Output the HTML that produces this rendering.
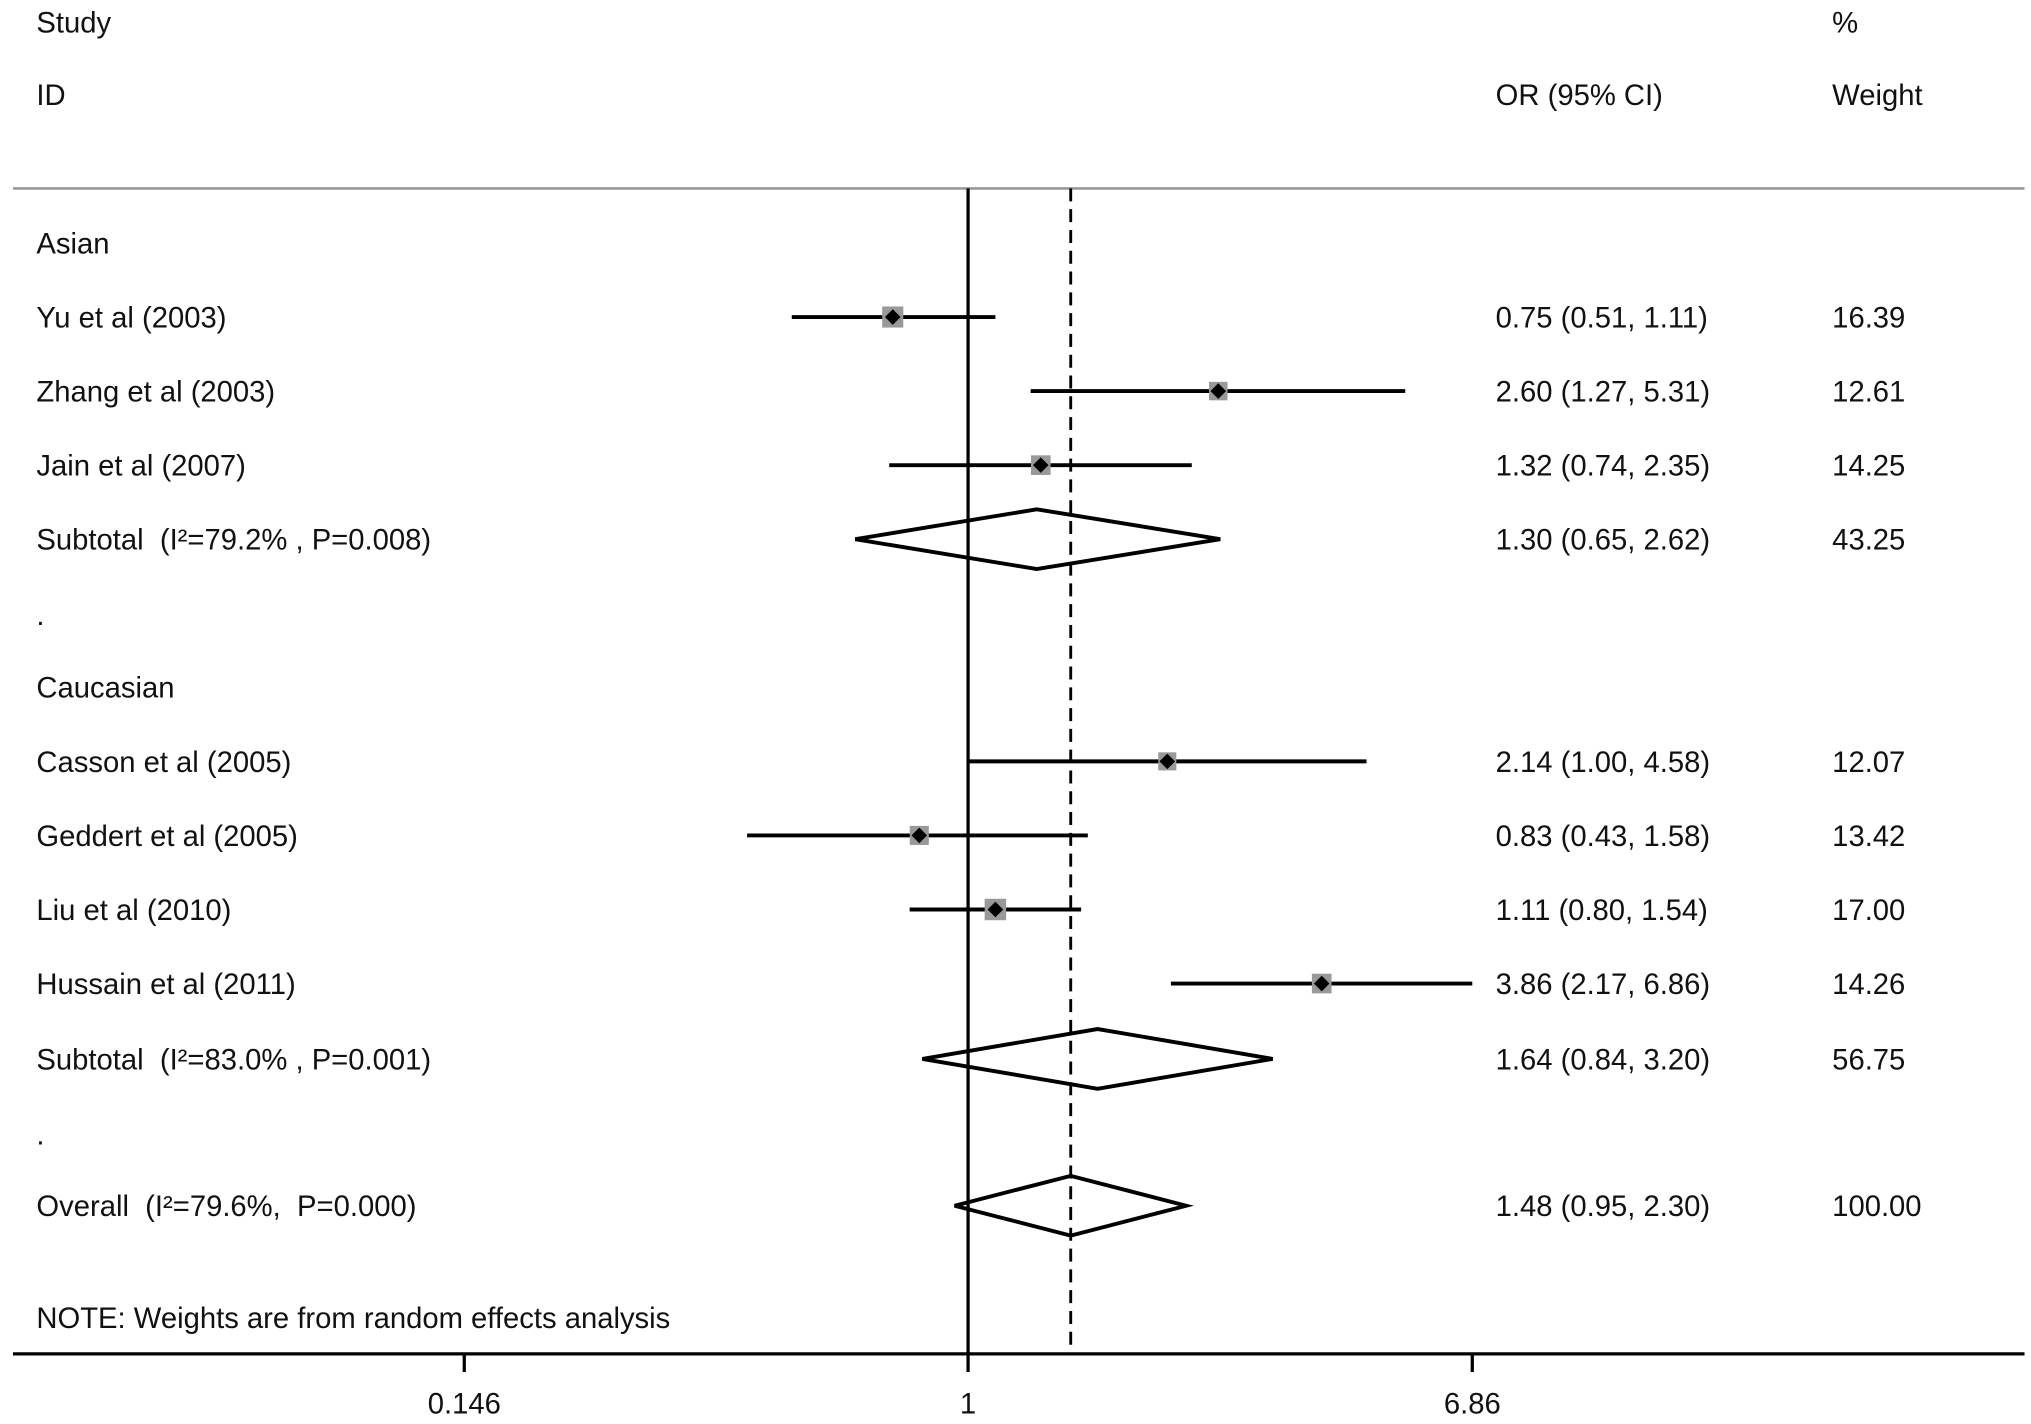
<!DOCTYPE html>
<html><head><meta charset="utf-8"><style>
html,body{margin:0;padding:0;background:#fff;}
svg{display:block;}
text{font-family:"Liberation Sans",Arial,sans-serif;font-size:22.5px;fill:#111;white-space:pre;}
</style></head><body>
<svg id="chart" width="2031" height="1424" viewBox="0 0 1563 1096" preserveAspectRatio="none" xmlns="http://www.w3.org/2000/svg">
<g id="g"></g>
</svg>
<script>
const labels=["Yu et al (2003)","Zhang et al (2003)","Jain et al (2007)","Casson et al (2005)","Geddert et al (2005)","Liu et al (2010)","Hussain et al (2011)"];
const studyRows=[1,2,3,7,8,9,10];
const orVals=[0.75,2.60,1.32,2.14,0.83,1.11,3.86];
const lowVals=[0.51,1.27,0.74,1.00,0.43,0.80,2.17];
const highVals=[1.11,5.31,2.35,4.58,1.58,1.54,6.86];
const weights=["16.39","12.61","14.25","12.07","13.42","17.00","14.26"];
const pooledLabels=["Subtotal  (I\u00B2=79.2% , P=0.008)","Subtotal  (I\u00B2=83.0% , P=0.001)","Overall  (I\u00B2=79.6%,  P=0.000)"];
const pooledRows=[4,11,13];
const pooledOr=[1.30,1.64,1.48];
const pooledLow=[0.65,0.84,0.95];
const pooledHigh=[2.62,3.20,2.30];
const pooledWeights=["43.25","56.75","100.00"];
const tickVals=[0.146,1,6.86];
const tickLabels=["0.146","1","6.86"];

const NS="http://www.w3.org/2000/svg";
const g=document.getElementById('g');
const X=v=>745+201.5*Math.log(v);
const rowY=[187,244,301,358,415,477,529,586,643,700,757,815,877,928];
const Y=r=>rowY[r];
function el(tag,attrs,txt){const e=document.createElementNS(NS,tag);for(const k in attrs)e.setAttribute(k,attrs[k]);if(txt!==undefined)e.textContent=txt;g.appendChild(e);return e;}
function txt(x,y,s){return el('text',{x:x,y:y+8},s);}
function f2(v){return v.toFixed(2);}

let e;
e=txt(28,17,"Study");
e=txt(28,73,"ID");
e=txt(1151,73,"OR (95% CI)");
e=txt(1410,17,"%");
e=txt(1410,73,"Weight");
e=el('line',{x1:10,y1:145,x2:1558,y2:145,stroke:'#999','stroke-width':2});
e=txt(28,Y(0),"Asian");
e=txt(28,Y(6),"Caucasian");
e=txt(28,Y(5)-4,".");
e=txt(28,Y(12)-4,".");
e=txt(28,1014,"NOTE: Weights are from random effects analysis");

e=el('line',{x1:X(1),y1:145,x2:X(1),y2:1042,stroke:'#000','stroke-width':2.5});
e=el('line',{x1:X(pooledOr[2]),y1:145,x2:X(pooledOr[2]),y2:1042,stroke:'#000','stroke-width':2.2,'stroke-dasharray':'10 6'});

for(let i=0;i<labels.length;i++){
  const y=Y(studyRows[i]);
  e=txt(28,y,labels[i]);
  e=el('line',{x1:X(lowVals[i]),y1:y,x2:X(highVals[i]),y2:y,stroke:'#000','stroke-width':3});
  const s=15*Math.sqrt(parseFloat(weights[i])/14);
  e=el('rect',{x:X(orVals[i])-s/2,y:y-s/2,width:s,height:s,fill:'#999'});
  const d=6,cx=X(orVals[i]);
  e=el('polygon',{points:`${cx-d},${y} ${cx},${y-d} ${cx+d},${y} ${cx},${y+d}`,fill:'#000'});
  e=txt(1151,y,`${f2(orVals[i])} (${f2(lowVals[i])}, ${f2(highVals[i])})`);
  e=txt(1410,y,weights[i]);
}
for(let i=0;i<pooledLabels.length;i++){
  const y=Y(pooledRows[i]);
  e=txt(28,y,pooledLabels[i]);
  const l=X(pooledLow[i]),h=X(pooledHigh[i]),c=X(pooledOr[i]),dy=23;
  e=el('polygon',{points:`${l},${y} ${c},${y-dy} ${h},${y} ${c},${y+dy}`,fill:'none',stroke:'#000','stroke-width':3});
  e=txt(1151,y,`${f2(pooledOr[i])} (${f2(pooledLow[i])}, ${f2(pooledHigh[i])})`);
  e=txt(1410,y,pooledWeights[i]);
}
e=el('line',{x1:10,y1:1042,x2:1558,y2:1042,stroke:'#000','stroke-width':2.5});
for(let i=0;i<tickVals.length;i++){
  const x=X(tickVals[i]);
  e=el('line',{x1:x,y1:1042,x2:x,y2:1056,stroke:'#000','stroke-width':2.5});
  e=el('text',{x:x,y:1088,'text-anchor':'middle'},tickLabels[i]);
}
</script>
</body></html>
